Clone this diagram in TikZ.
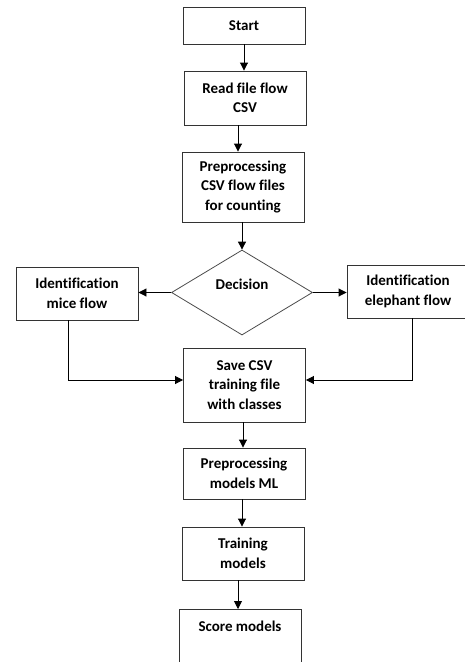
\documentclass[tikz,border=0pt]{standalone}
\usepackage{fontspec}
\setmainfont{Carlito}[Ligatures=CommonOff]
\usetikzlibrary{shapes.geometric,arrows.meta}
\begin{document}
\begin{tikzpicture}[x=1pt,y=-1pt,
  box/.style={draw=black!80, line width=0.9pt, fill=white, font=\bfseries\fontsize{15}{19.5}\selectfont, align=center, inner sep=0pt, minimum width=122pt},
  dia/.style={draw=black!70, line width=0.8pt, diamond, aspect=1.66, minimum width=141pt, minimum height=85pt, inner sep=0pt, font=\bfseries\fontsize{15}{19.5}\selectfont},
  arr/.style={-{Triangle[length=8pt,width=8pt]}, line width=0.9pt, draw=black},
]
\useasboundingbox (0,0) rectangle (465,662);
\clip (0,0) rectangle (465,662);
\fill[white] (0,0) rectangle (465,662);

\node[box, minimum height=37pt] (start) at (244,25.5) {Start};
\node[box, minimum height=54pt] (read) at (245,98) {Read file flow\\CSV};
\node[box, minimum height=70pt] (pre) at (243,187) {Preprocessing\\CSV flow files\\for counting};
\node[dia] (dec) at (242,292.5) {\raisebox{16pt}{Decision}};
\node[box, minimum height=53pt] (mice) at (77,293.5) {Identification\\mice flow};
\node[box, minimum height=53pt] (eleph) at (408,291.5) {Identification\\elephant flow};
\node[box, minimum height=74pt] (save) at (244.5,385) {Save CSV\\training file\\with classes};
\node[box, minimum height=51pt] (pml) at (244,473.5) {Preprocessing\\models ML};
\node[box, minimum height=53pt] (train) at (243,553.5) {Training\\models};
\node[box, anchor=north, text height=22pt, text depth=45pt] (score) at (240,609) {Score models};

\draw[arr] (start.south) -- (start.south |- read.north);
\draw[arr] ([xshift=-7pt]read.south) -- ([xshift=-7pt]read.south |- pre.north);
\draw[arr] (dec.north |- pre.south) -- (dec.north);
\draw[arr] (dec.west) -- (dec.west -| mice.east);
\draw[arr] (dec.east) -- (dec.east -| eleph.west);
\draw[arr] ([xshift=-9pt]mice.south) |- ([yshift=5pt]save.west);
\draw[arr] ([xshift=4pt]eleph.south) |- ([yshift=5pt]save.east);
\draw[arr] ([xshift=-1.5pt]save.south) -- ([xshift=-1.5pt]save.south |- pml.north);
\draw[arr] ([xshift=-2pt]pml.south) -- ([xshift=-2pt]pml.south |- train.north);
\draw[arr] ([xshift=-5pt]train.south) -- ([xshift=-5pt]train.south |- score.north);
\end{tikzpicture}
\end{document}
